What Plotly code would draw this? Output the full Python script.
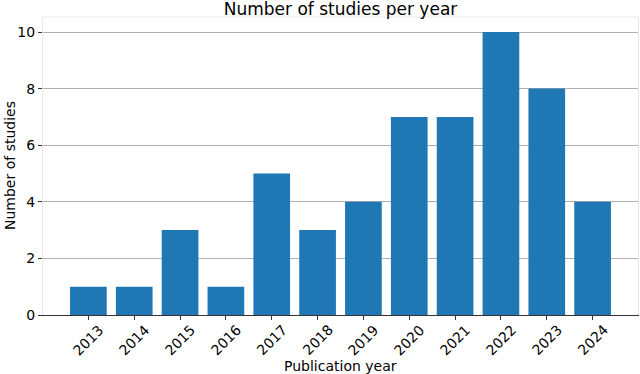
import plotly.graph_objects as go

years = ["2013", "2014", "2015", "2016", "2017", "2018", "2019", "2020", "2021", "2022", "2023", "2024"]
studies = [1, 1, 3, 1, 5, 3, 4, 7, 7, 10, 8, 4]
y_ticks = [0, 2, 4, 6, 8, 10]

font = "DejaVu Sans, sans-serif"

fig = go.Figure()
fig.add_trace(go.Bar(
    x=years, y=studies, width=0.8,
    marker=dict(color="#1f77b4", line=dict(width=0)),
    hoverinfo="skip",
))

fig.update_layout(
    width=640, height=374,
    margin=dict(l=43, r=2, t=17, b=59, autoexpand=False),
    paper_bgcolor="white", plot_bgcolor="white",
    showlegend=False,
    font=dict(family=font, size=14, color="black"),
    title=dict(text="Number of studies per year", x=(43 + 638) / 2 / 640, xanchor="center",
               xref="container", yref="container", y=1 - 9.5 / 374, yanchor="middle",
               font=dict(size=17, family=font, color="black"), automargin=False),
    xaxis=dict(
        type="category", range=[-0.99, 11.99],
        ticks="outside", ticklen=4, tickcolor="#333", tickwidth=1,
        showticklabels=False,
        showline=True, linecolor="#333", linewidth=1, mirror=False,
        showgrid=False, zeroline=False, automargin=False,
    ),
    yaxis=dict(
        range=[0, 10.53], tickvals=y_ticks,
        ticks="outside", ticklen=4, tickcolor="#333", tickwidth=1,
        showline=True, linecolor="#e8e8e8", linewidth=1, mirror=True,
        showgrid=True, gridcolor="#b0b0b0", gridwidth=1, zeroline=False,
        layer="above traces", automargin=False,
        tickfont=dict(size=14),
    ),
)

# top spine (faint)
fig.add_shape(type="line", xref="paper", yref="paper", x0=0, x1=1, y0=1, y1=1,
              line=dict(color="#e8e8e8", width=1))

# rotated x tick labels, centred under each tick (matplotlib ha='center')
for i, yr in enumerate(years):
    fig.add_annotation(x=i, y=0, xref="x", yref="paper", text=yr, textangle=-45,
                       showarrow=False, xanchor="center", yanchor="top", yshift=-5,
                       font=dict(size=14, family=font, color="black"), borderpad=0)

# axis titles
fig.add_annotation(x=0.5, y=0, xref="paper", yref="paper", text="Publication year",
                   showarrow=False, xanchor="center", yanchor="middle", yshift=-51,
                   font=dict(size=14, family=font, color="black"))
fig.add_annotation(x=0, y=0.5, xref="paper", yref="paper", text="Number of studies",
                   textangle=-90, showarrow=False, xanchor="center", yanchor="middle",
                   xshift=-33, font=dict(size=14, family=font, color="black"))

fig.write_html("out.html", config={"displayModeBar": False},
               post_script="document.body.style.margin='0';")
